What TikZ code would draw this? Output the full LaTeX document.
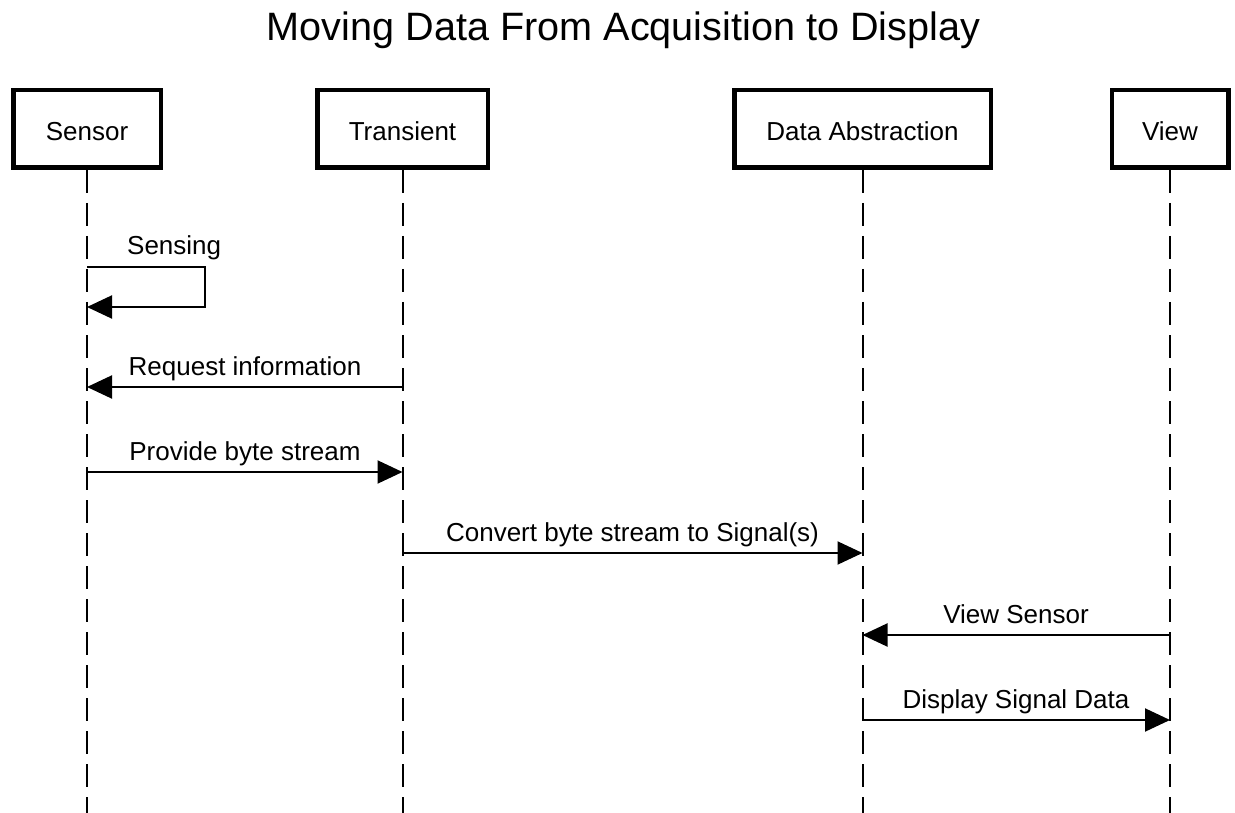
\documentclass[tikz,border=0pt]{standalone}
\usepackage{fontspec}
\setmainfont{Liberation Sans}
\usetikzlibrary{arrows.meta}
\begin{document}
\begin{tikzpicture}[x=1pt,y=-1pt,
  actor/.style={draw, line width=4.5pt, fill=white, inner sep=0pt,
    minimum height=77.5pt, text height=24pt, text depth=0pt,
    font=\fontsize{26}{31}\selectfont},
  lifeline/.style={line width=2pt, dash pattern=on 23pt off 10pt},
  msg/.style={line width=2pt, -{Triangle[length=25pt,width=23pt]}},
  msglabel/.style={anchor=base, inner sep=0pt, font=\fontsize{26}{31}\selectfont}]
\useasboundingbox (0,0) rectangle (1235,813);

% title
\node[anchor=base, inner sep=0pt, font=\fontsize{39.6}{48}\selectfont] (title)
  at (623.5,41) {Moving Data From Acquisition to Display};

% participants
\node[actor, minimum width=147.5pt] (sensor)    at (87,129)    {Sensor};
\node[actor, minimum width=170.5pt] (transient) at (402.5,129) {Transient};
\node[actor, minimum width=256.5pt] (abstr)     at (862.5,129) {Data Abstraction};
\node[actor, minimum width=116.5pt] (view)      at (1170,129)  {View};

% lifelines
\coordinate (sensorEnd)    at (sensor |- 0,813);
\coordinate (transientEnd) at (transient |- 0,813);
\coordinate (abstrEnd)     at (abstr |- 0,813);
\coordinate (viewEnd)      at (view |- 0,813);
\draw[lifeline] (sensor.south)    -- (sensorEnd);
\draw[lifeline] (transient.south) -- (transientEnd);
\draw[lifeline] (abstr.south)     -- (abstrEnd);
\draw[lifeline] (view.south)      -- (viewEnd);

% message anchor points on the lifelines
\coordinate (loopA) at (sensor |- 0,267);
\coordinate (loopB) at (sensor |- 0,307);
\coordinate (reqS)  at (sensor |- 0,387);
\coordinate (reqT)  at (transient |- 0,387);
\coordinate (provS) at (sensor |- 0,472);
\coordinate (provT) at (transient |- 0,472);
\coordinate (convT) at (transient |- 0,553);
\coordinate (convA) at (abstr |- 0,553);
\coordinate (viewV) at (view |- 0,635);
\coordinate (viewA) at (abstr |- 0,635);
\coordinate (dispA) at (abstr |- 0,720);
\coordinate (dispV) at (view |- 0,720);

% messages
\draw[msg] (loopA) -- ++(118,0) |- (loopB);
\draw[msg] (reqT) -- (reqS);
\draw[msg] (provS) -- (provT);
\draw[msg] (convT) -- (convA);
\draw[msg] (viewV) -- (viewA);
\draw[msg] (dispA) -- (dispV);

% message labels
\node[msglabel, anchor=base west] (lSensing) at (127,255) {Sensing};
\node[msglabel] (lReq)  at (245,375)    {Request information};
\node[msglabel] (lProv) at (245,460)    {Provide byte stream};
\node[msglabel] (lConv) at (632.5,541)  {Convert byte stream to Signal(s)};
\node[msglabel] (lView) at (1016,623)   {View Sensor};
\node[msglabel] (lDisp) at (1016,708)   {Display Signal Data};
\end{tikzpicture}
\end{document}
